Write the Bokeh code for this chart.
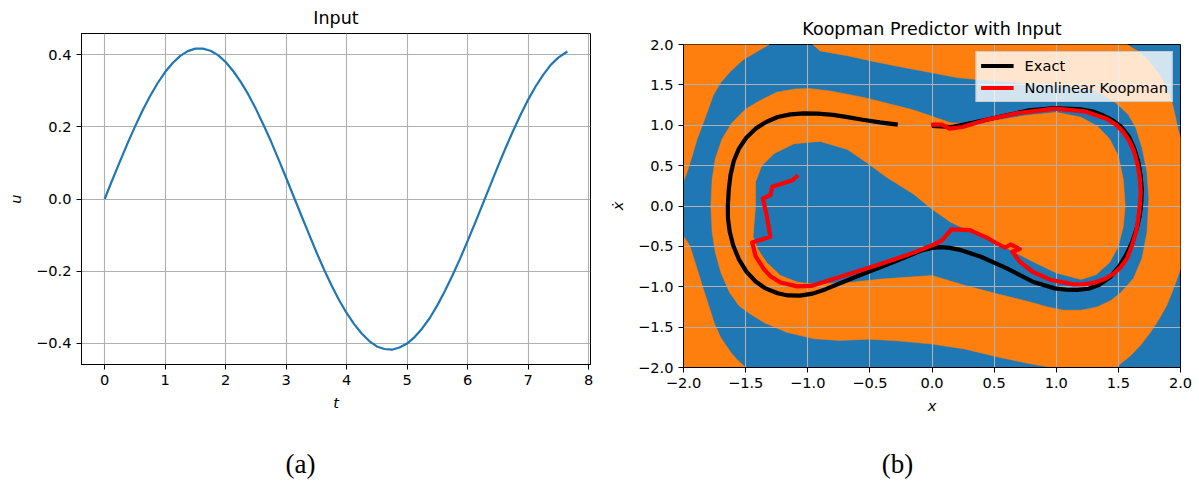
from bokeh.plotting import figure
from bokeh.layouts import row, column
from bokeh.models import Range1d, FixedTicker, CustomJSTickFormatter, Legend, LegendItem, Spacer
from bokeh.embed import file_html
from bokeh.resources import INLINE
from bokeh.core.properties import value

BLUE = "#1f77b4"
ORANGE = "#ff7f0e"

# ---------------- panel (a): input signal ----------------
t_vals = [0.0, 0.125, 0.25, 0.375, 0.5, 0.625, 0.75, 0.875, 1.0, 1.125, 1.25, 1.375, 1.5,
          1.625, 1.75, 1.875, 2.0, 2.125, 2.25, 2.375, 2.5, 2.625, 2.75, 2.875, 3.0, 3.125,
          3.25, 3.375, 3.5, 3.625, 3.75, 3.875, 4.0, 4.125, 4.25, 4.375, 4.5, 4.625, 4.75,
          4.875, 5.0, 5.125, 5.25, 5.375, 5.5, 5.625, 5.75, 5.875, 6.0, 6.125, 6.25, 6.375,
          6.5, 6.625, 6.75, 6.875, 7.0, 7.125, 7.25, 7.375, 7.5, 7.65]
u_vals = [0.0, 0.052, 0.103, 0.153, 0.200, 0.245, 0.285, 0.321, 0.352, 0.377, 0.397, 0.410,
          0.417, 0.417, 0.411, 0.399, 0.380, 0.355, 0.325, 0.290, 0.250, 0.206, 0.160, 0.110,
          0.059, 0.007, -0.045, -0.096, -0.147, -0.195, -0.239, -0.280, -0.316, -0.347, -0.373,
          -0.394, -0.409, -0.416, -0.418, -0.412, -0.401, -0.383, -0.359, -0.330, -0.295,
          -0.255, -0.212, -0.166, -0.117, -0.066, -0.014, 0.038, 0.090, 0.140, 0.188, 0.233,
          0.275, 0.312, 0.344, 0.372, 0.392, 0.409]
t_ticks = [0, 1, 2, 3, 4, 5, 6, 7, 8]
u_ticks = [-0.4, -0.2, 0.0, 0.2, 0.4]

# ---------------- panel (b): Koopman predictor ----------------
xy_ticks = [-2.0, -1.5, -1.0, -0.5, 0.0, 0.5, 1.0, 1.5, 2.0]

exact_x = [0.0, 0.156, 0.335, 0.572, 0.781, 0.989, 1.197, 1.30, 1.375, 1.455, 1.524, 1.585,
           1.628, 1.660, 1.679, 1.688, 1.685, 1.673, 1.648, 1.613, 1.565, 1.509, 1.435, 1.346,
           1.260, 1.167, 1.080, 0.989, 0.810, 0.602, 0.394, 0.216, 0.140, 0.067, -0.010,
           -0.082, -0.320, -0.617, -0.855, -0.960, -1.063, -1.160, -1.242, -1.340, -1.420,
           -1.495, -1.554, -1.600, -1.628, -1.642, -1.643, -1.636, -1.622, -1.595, -1.554,
           -1.495, -1.420, -1.335, -1.242, -1.140, -1.033, -0.920, -0.796, -0.680, -0.558,
           -0.420, -0.275]
exact_y = [0.991, 0.978, 1.032, 1.114, 1.184, 1.213, 1.197, 1.168, 1.123, 1.060, 0.978, 0.860,
           0.711, 0.550, 0.381, 0.215, 0.052, -0.115, -0.278, -0.440, -0.600, -0.740, -0.880,
           -0.975, -1.025, -1.040, -1.037, -1.020, -0.937, -0.772, -0.628, -0.540, -0.518,
           -0.510, -0.522, -0.550, -0.700, -0.880, -1.030, -1.085, -1.110, -1.108, -1.081,
           -1.020, -0.935, -0.810, -0.660, -0.490, -0.319, -0.155, 0.010, 0.195, 0.381, 0.560,
           0.711, 0.845, 0.958, 1.040, 1.102, 1.135, 1.148, 1.145, 1.128, 1.100, 1.068, 1.035,
           1.007]

koop_x = [-0.007, 0.082, 0.141, 0.245, 0.453, 0.691, 0.989, 1.227, 1.405, 1.480, 1.539,
          1.590, 1.628, 1.655, 1.673, 1.680, 1.673, 1.660, 1.643, 1.610, 1.569, 1.520, 1.465,
          1.395, 1.316, 1.230, 1.138, 0.959, 0.810, 0.706, 0.647, 0.706, 0.632, 0.587, 0.453,
          0.305, 0.156, 0.082, 0.007, -0.201, -0.439, -0.736, -0.974, -1.085, -1.219, -1.300,
          -1.353, -1.420, -1.447, -1.301, -1.331, -1.361, -1.301, -1.286, -1.123, -1.078]
koop_y = [1.007, 1.007, 0.958, 0.978, 1.073, 1.151, 1.205, 1.172, 1.081, 1.010, 0.917,
          0.800, 0.669, 0.510, 0.340, 0.175, 0.010, -0.160, -0.319, -0.490, -0.649, -0.755,
          -0.834, -0.900, -0.945, -0.968, -0.970, -0.917, -0.814, -0.690, -0.567, -0.533,
          -0.476, -0.517, -0.402, -0.299, -0.290, -0.422, -0.484, -0.608, -0.731, -0.875,
          -0.990, -0.995, -0.947, -0.870, -0.782, -0.620, -0.453, -0.381, -0.113, 0.093,
          0.134, 0.237, 0.319, 0.381]

# orange regions of the classified phase plane (blue elsewhere)
corner_tl_x = [-2.0, -1.31, -1.41, -1.52, -1.62, -1.70, -1.76, -1.80, -1.84, -1.89, -1.93, -1.97, -2.0]
corner_tl_y = [2.0, 2.0, 1.91, 1.81, 1.67, 1.53, 1.37, 1.20, 1.03, 0.83, 0.62, 0.42, 0.30]

corner_bl_x = [-2.0, -1.95, -1.90, -1.85, -1.80, -1.75, -1.70, -1.62, -1.57, -1.50, -2.0]
corner_bl_y = [-0.37, -0.49, -0.73, -0.98, -1.22, -1.46, -1.63, -1.81, -1.90, -2.0, -2.0]

main_x = [-0.96, 1.57, 1.62, 1.68, 1.76, 1.84, 1.89, 1.93, 1.96, 1.98, 2.0, 2.0,
          1.95, 1.89, 1.82, 1.76, 1.68, 1.60, 1.48, 0.97,
          0.79, 0.53, 0.26, 0.0, -0.28, -0.5, -0.74, -0.95, -1.17, -1.35,
          -1.46, -1.55, -1.63, -1.70, -1.745, -1.77, -1.78, -1.77, -1.745, -1.69, -1.61, -1.50, -1.38, -1.25,
          -1.1, -0.99, -0.82, -0.55, -0.28, -0.15, 0.0,
          0.15, 0.3, 0.5, 0.75, 1.0, 1.2, 1.33, 1.43, 1.5, 1.54, 1.555, 1.54, 1.5, 1.43, 1.32, 1.2,
          1.0, 0.8, 0.55, 0.3, 0.15, 0.0,
          -0.15, -0.36, -0.52, -0.68, -0.9, -1.11, -1.27, -1.37, -1.42, -1.42, -1.44,
          -1.40, -1.33, -1.22, -1.08, -0.95, -0.68, -0.41, 0.0, 0.26, 0.53, 0.79, 0.93, 1.06, 1.2, 1.33, 1.44,
          1.52, 1.62, 1.69, 1.73, 1.745, 1.73, 1.69, 1.64, 1.58, 1.5, 1.42, 1.3, 1.03, 0.7, 0.34,
          0.2, 0.0, -0.28, -0.5, -0.68, -0.9]
main_y = [2.0, 2.0, 1.95, 1.90, 1.77, 1.61, 1.45, 1.30, 1.10, 0.95, 0.85, -0.78,
          -1.0, -1.23, -1.42, -1.56, -1.72, -1.85, -2.0, -2.0,
          -1.955, -1.87, -1.77, -1.71, -1.67, -1.65, -1.665, -1.645, -1.565, -1.445,
          -1.34, -1.24, -1.07, -0.82, -0.57, -0.32, 0.0, 0.33, 0.58, 0.83, 1.03, 1.20, 1.31, 1.41,
          1.45, 1.455, 1.425, 1.345, 1.24, 1.19, 1.11,
          1.03, 1.02, 1.06, 1.12, 1.16, 1.1, 0.99, 0.83, 0.62, 0.33, 0.0, -0.25, -0.5, -0.7, -0.85, -0.91,
          -0.83, -0.68, -0.48, -0.31, -0.2, -0.04,
          0.15, 0.35, 0.53, 0.7, 0.8, 0.77, 0.65, 0.5, 0.3, 0.0, -0.38,
          -0.54, -0.70, -0.86, -0.945, -0.965, -0.95, -0.905, -0.86, -0.98, -1.09, -1.19, -1.25, -1.29, -1.29, -1.25, -1.17,
          -1.07, -0.9, -0.65, -0.33, 0.09, 0.42, 0.72, 0.97, 1.13, 1.25, 1.34, 1.44, 1.49, 1.53, 1.57,
          1.59, 1.65, 1.73, 1.80, 1.86, 1.92]

# sub-figure captions
caption_text = ["(a)", "(b)"]

FONT = "DejaVu Sans"
TICK_PX = "14.6px"
CAPTION_FONT = "Liberation Serif"


def style(p, title):
    p.title.text = title
    p.title.text_font = FONT
    p.title.text_font_size = "17.5px"
    p.title.text_font_style = "normal"
    p.title.text_color = "black"
    p.title.align = "center"
    p.title.standoff = 11
    p.outline_line_color = "black"
    p.outline_line_width = 1
    p.outline_line_alpha = 1
    for ax in (p.xaxis[0], p.yaxis[0]):
        ax.axis_line_color = "black"
        ax.major_tick_line_color = "black"
        ax.major_tick_out = 5
        ax.major_tick_in = 0
        ax.minor_tick_line_color = None
        ax.major_label_text_font = FONT
        ax.major_label_text_font_size = TICK_PX
        ax.major_label_text_color = "black"
        ax.major_label_standoff = 5
        ax.axis_label_text_font = FONT
        ax.axis_label_text_font_size = TICK_PX
        ax.axis_label_text_font_style = "italic"
        ax.axis_label_text_color = "black"
    for g in (p.xgrid[0], p.ygrid[0]):
        g.grid_line_color = "#b0b0b0"
        g.grid_line_width = 1.1
        g.grid_line_alpha = 1.0
    p.border_fill_color = "white"


minus_fmt1 = CustomJSTickFormatter(code="return (tick < 0 ? '\u2212' : '') + Math.abs(tick).toFixed(1);")

# ---- figure (a)
p1 = figure(width=600, height=440, x_range=Range1d(-0.3825, 8.0325), y_range=Range1d(-0.459, 0.459),
            output_backend="svg", toolbar_location=None,
            min_border_left=81, min_border_right=10, min_border_top=32, min_border_bottom=76)
style(p1, "Input")
p1.xaxis.ticker = FixedTicker(ticks=t_ticks)
p1.yaxis.ticker = FixedTicker(ticks=u_ticks)
p1.yaxis.formatter = minus_fmt1
p1.xaxis.axis_label = "t"
p1.yaxis.axis_label = "u"
p1.xaxis.axis_label_standoff = 6
p1.yaxis.axis_label_standoff = 9
p1.line(t_vals, u_vals, line_color=BLUE, line_width=2.2, line_join="round")

# ---- figure (b)
p2 = figure(width=599, height=429, x_range=Range1d(-2, 2), y_range=Range1d(-2, 2),
            output_backend="svg", toolbar_location=None, background_fill_color=BLUE,
            min_border_left=83, min_border_right=19, min_border_top=32, min_border_bottom=73)
style(p2, "Koopman Predictor with Input")
p2.xaxis.ticker = FixedTicker(ticks=xy_ticks)
p2.yaxis.ticker = FixedTicker(ticks=xy_ticks)
p2.xaxis.formatter = minus_fmt1
p2.yaxis.formatter = minus_fmt1
p2.xaxis.axis_label = "x"
p2.yaxis.axis_label = "\u1e8b"
p2.xaxis.axis_label_standoff = 6
p2.yaxis.axis_label_standoff = 9

for xs, ys in ((corner_tl_x, corner_tl_y), (corner_bl_x, corner_bl_y), (main_x, main_y)):
    p2.patch(xs, ys, fill_color=ORANGE, line_color=ORANGE, line_width=0.5, level="image")

r_exact = p2.line(exact_x, exact_y, line_color="black", line_width=4.2, line_join="round")
r_koop = p2.line(koop_x, koop_y, line_color="#ff0000", line_width=4.2, line_join="round")

legend = Legend(items=[LegendItem(label="Exact", renderers=[r_exact]),
                       LegendItem(label="Nonlinear Koopman", renderers=[r_koop])],
                location="top_right", margin=7, padding=4, spacing=3,
                label_height=19, glyph_height=19, glyph_width=33, label_standoff=11,
                label_text_font=FONT, label_text_font_size=TICK_PX, label_text_color="black",
                background_fill_color="white", background_fill_alpha=0.8,
                border_line_color="#cccccc", border_line_alpha=1.0)
p2.add_layout(legend)

# ---- caption strip (screen-like coordinates: 0..1199 wide, 0..41 tall)
pc = figure(width=1199, height=41, x_range=Range1d(0, 1199), y_range=Range1d(0, 41),
            output_backend="svg", toolbar_location=None,
            min_border_left=0, min_border_right=0, min_border_top=0, min_border_bottom=0)
pc.axis.visible = False
pc.grid.visible = False
pc.outline_line_color = None
pc.text(x=[300, 897], y=[18, 18], text=caption_text, text_align="center", text_baseline="middle",
        text_font=value(CAPTION_FONT), text_font_size="27px", text_color="black")

top = row(p1, column(Spacer(width=599, height=11), p2, spacing=0), spacing=0)
layout = column(top, row(pc), spacing=0)
open("out.html", "w").write(file_html(layout, INLINE))
